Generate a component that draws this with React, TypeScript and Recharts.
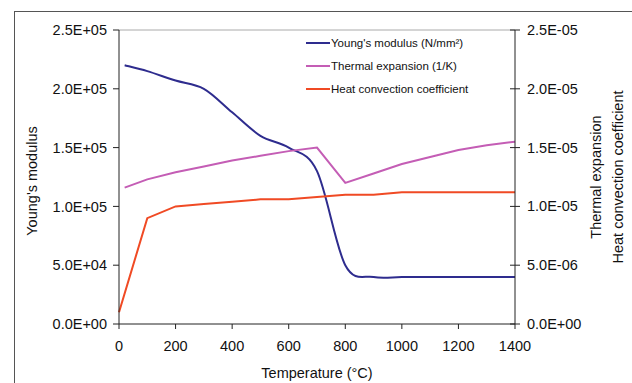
import React from 'react';
import { ComposedChart, Line, XAxis, YAxis, ReferenceLine, Legend } from 'recharts';

// Temperature points (°C) for each series
const tempYoung = [20, 100, 200, 300, 400, 500, 600, 700, 800, 900, 1000, 1100, 1200, 1300, 1400];
const youngsModulus = [220000, 215000, 207000, 200000, 180000, 160000, 150000, 130000, 50000, 40000, 40000, 40000, 40000, 40000, 40000];

const tempExpansion = [20, 100, 200, 300, 400, 500, 600, 700, 800, 900, 1000, 1100, 1200, 1300, 1400];
const thermalExpansion = [1.16e-5, 1.23e-5, 1.29e-5, 1.34e-5, 1.39e-5, 1.43e-5, 1.47e-5, 1.5e-5, 1.2e-5, 1.28e-5, 1.36e-5, 1.42e-5, 1.48e-5, 1.52e-5, 1.55e-5];

const tempConvection = [0, 100, 200, 300, 400, 500, 600, 700, 800, 900, 1000, 1100, 1200, 1300, 1400];
const heatConvection = [1e-6, 9e-6, 1e-5, 1.02e-5, 1.04e-5, 1.06e-5, 1.06e-5, 1.08e-5, 1.1e-5, 1.1e-5, 1.12e-5, 1.12e-5, 1.12e-5, 1.12e-5, 1.12e-5];

const seriesNames = ["Young's modulus (N/mm²)", 'Thermal expansion (1/K)', 'Heat convection coefficient'];

const xTicks = [0, 200, 400, 600, 800, 1000, 1200, 1400];
const leftTicks = [0, 50000, 100000, 150000, 200000, 250000];
const rightTicks = [0, 5e-6, 1e-5, 1.5e-5, 2e-5, 2.5e-5];

const youngData = tempYoung.map((t, i) => ({ t, v: youngsModulus[i] }));
const expansionData = tempExpansion.map((t, i) => ({ t, v: thermalExpansion[i] }));
const convectionData = tempConvection.map((t, i) => ({ t, v: heatConvection[i] }));

const FONT = '"Liberation Sans", Arial, sans-serif';
const AXIS = '#222';

// Excel-style scientific notation: 2.5E+05, 5.0E-06
const sci = (v: number) => {
  const [m, e] = v.toExponential(1).split('e');
  return `${m}E${e[0]}${e.slice(1).padStart(2, '0')}`;
};

// Catmull-Rom style smoothing (what spreadsheet "smoothed line" charts use)
const smoothCurve = (context: any) => {
  let pts: [number, number][] = [];
  return {
    areaStart() {},
    areaEnd() {},
    lineStart() {
      pts = [];
    },
    point(x: number, y: number) {
      pts.push([+x, +y]);
    },
    lineEnd() {
      if (!pts.length) return;
      context.moveTo(pts[0][0], pts[0][1]);
      for (let i = 0; i < pts.length - 1; i++) {
        const p0 = pts[Math.max(i - 1, 0)];
        const p1 = pts[i];
        const p2 = pts[i + 1];
        const p3 = pts[Math.min(i + 2, pts.length - 1)];
        context.bezierCurveTo(
          p1[0] + (p2[0] - p0[0]) / 6,
          p1[1] + (p2[1] - p0[1]) / 6,
          p2[0] - (p3[0] - p1[0]) / 6,
          p2[1] - (p3[1] - p1[1]) / 6,
          p2[0],
          p2[1]
        );
      }
    },
  };
};

const tickStyle = { fontSize: 14.5, fill: '#111', fontFamily: FONT };

// right axis ticks cross the axis line
const RightTick = (props: any) => {
  const { x, y, payload } = props;
  const ax = x - 12;
  return (
    <g>
      <line x1={ax - 5} x2={ax + 5} y1={y} y2={y} stroke={AXIS} />
      <text x={x} y={y} dy={5} textAnchor="start" {...tickStyle}>
        {sci(payload.value)}
      </text>
    </g>
  );
};

const renderLegend = (props: any) => {
  const items = [...props.payload].sort((a: any, b: any) => seriesNames.indexOf(a.value) - seriesNames.indexOf(b.value));
  return (
    <div style={{ fontFamily: FONT, fontSize: 11.5, color: '#111' }}>
      {items.map((entry: any) => (
        <div key={entry.value} style={{ display: 'flex', alignItems: 'center', height: 23.3 }}>
          <span style={{ display: 'inline-block', width: 24, height: 2, background: entry.color, marginRight: 1 }} />
          <span>{entry.value}</span>
        </div>
      ))}
    </div>
  );
};

export default function App() {
  return (
    <div style={{ position: 'absolute', left: 0, top: 0, width: 632, height: 383, overflow: 'hidden', background: '#fff' }}>
      <div style={{ position: 'absolute', left: 14, top: 11, width: 700, height: 500, border: '1.5px solid #555' }} />
      <div style={{ position: 'absolute', left: 0, top: 0 }}>
        <ComposedChart width={632} height={383} margin={{ top: 30, right: 0, bottom: 0, left: 0 }}>
          <XAxis
            type="number"
            dataKey="t"
            domain={[0, 1400]}
            ticks={xTicks}
            height={59}
            stroke={AXIS}
            tickSize={5}
            tickMargin={12}
            tick={tickStyle}
            label={{
              content: () => (
                <text x={317} y={378} textAnchor="middle" {...tickStyle}>
                  Temperature (°C)
                </text>
              ),
            }}
          />
          <YAxis
            yAxisId="left"
            domain={[0, 250000]}
            ticks={leftTicks}
            width={119}
            stroke={AXIS}
            tickSize={6}
            tickMargin={6}
            tick={tickStyle}
            tickFormatter={sci}
            label={{
              content: () => (
                <text x={37} y={181} transform="rotate(-90 37 181)" textAnchor="middle" {...tickStyle}>
                  Young's modulus
                </text>
              ),
            }}
          />
          <YAxis
            yAxisId="right"
            orientation="right"
            domain={[0, 2.5e-5]}
            ticks={rightTicks}
            width={117}
            stroke={AXIS}
            tickLine={false}
            tickSize={5}
            tickMargin={7}
            tick={<RightTick />}
            label={{
              content: () => (
                <g>
                  <text x={601} y={177} transform="rotate(-90 601 177)" textAnchor="middle" {...tickStyle}>
                    Thermal expansion
                  </text>
                  <text x={623} y={177} transform="rotate(-90 623 177)" textAnchor="middle" {...tickStyle}>
                    Heat convection coefficient
                  </text>
                </g>
              ),
            }}
          />
          <ReferenceLine yAxisId="left" y={250000} stroke="#aaa" />
          <Legend
            layout="vertical"
            align="center"
            verticalAlign="middle"
            content={renderLegend}
            wrapperStyle={{ left: 306, top: 31, width: 200 }}
          />
          <Line
            data={youngData}
            dataKey="v"
            name={seriesNames[0]}
            yAxisId="left"
            type={smoothCurve as any}
            stroke="#2e2c8e"
            strokeWidth={2}
            dot={false}
            isAnimationActive={false}
          />
          <Line
            data={expansionData}
            dataKey="v"
            name={seriesNames[1]}
            yAxisId="right"
            type="linear"
            stroke="#c45db5"
            strokeWidth={2}
            dot={false}
            isAnimationActive={false}
          />
          <Line
            data={convectionData}
            dataKey="v"
            name={seriesNames[2]}
            yAxisId="right"
            type="linear"
            stroke="#f04a24"
            strokeWidth={2}
            dot={false}
            isAnimationActive={false}
          />
        </ComposedChart>
      </div>
    </div>
  );
}
